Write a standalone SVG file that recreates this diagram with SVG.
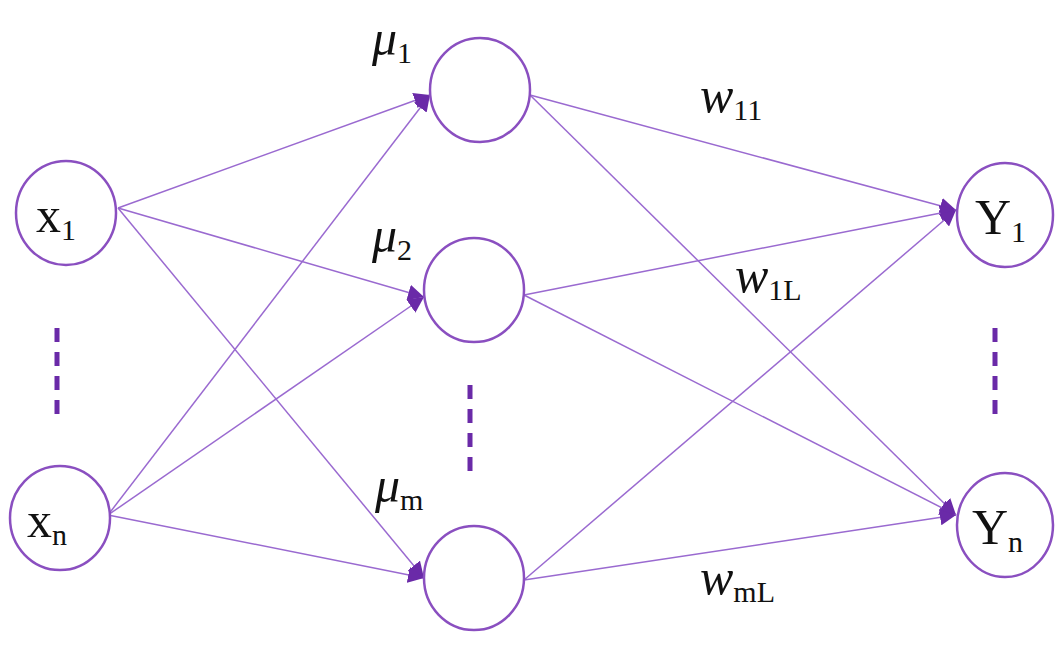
<svg xmlns="http://www.w3.org/2000/svg" width="1063" height="646" viewBox="0 0 1063 646">
<style>
.n{fill:#fff;stroke:#8a4fc0;stroke-width:2.5}
.e{stroke:#9a6ad0;stroke-width:1.5;fill:none}
.d{stroke:#6a2aa8;stroke-width:5;stroke-dasharray:14,10}
.t{font-family:"Liberation Serif",serif;font-size:50px;fill:#111}
.s{font-family:"Liberation Serif",serif;font-size:30px;fill:#111}
.w{font-family:"Liberation Serif",serif;font-style:italic;font-size:50px;fill:#111}
</style>
<defs><marker id="a" viewBox="0 0 10 10" refX="10" refY="5" markerWidth="16" markerHeight="16" markerUnits="userSpaceOnUse" orient="auto"><path d="M0,0L10,5L0,10z" fill="#6a2aa8"/></marker></defs>
<rect width="1063" height="646" fill="#fff"/>
<g id="connectors">
<line class="e" x1="118" y1="208" x2="430" y2="95" marker-end="url(#a)"/>
<line class="e" x1="118" y1="208" x2="424" y2="297" marker-end="url(#a)"/>
<line class="e" x1="118" y1="208" x2="424" y2="578" marker-end="url(#a)"/>
<line class="e" x1="108" y1="515" x2="430" y2="95" marker-end="url(#a)"/>
<line class="e" x1="108" y1="515" x2="424" y2="297" marker-end="url(#a)"/>
<line class="e" x1="108" y1="515" x2="424" y2="578" marker-end="url(#a)"/>
<line class="e" x1="530" y1="95" x2="956" y2="210" marker-end="url(#a)"/>
<line class="e" x1="530" y1="95" x2="956" y2="515" marker-end="url(#a)"/>
<line class="e" x1="524" y1="295" x2="956" y2="210" marker-end="url(#a)"/>
<line class="e" x1="524" y1="295" x2="956" y2="515" marker-end="url(#a)"/>
<line class="e" x1="524" y1="580" x2="956" y2="210" marker-end="url(#a)"/>
<line class="e" x1="524" y1="580" x2="956" y2="515" marker-end="url(#a)"/>
</g>
<line class="d" x1="57" y1="328" x2="57" y2="422"/>
<line class="d" x1="470" y1="385" x2="470" y2="472"/>
<line class="d" x1="995" y1="328" x2="995" y2="422"/>
<g id="x1"><ellipse class="n" cx="66" cy="213" rx="50" ry="52"/><text class="t" x="36" y="232">x<tspan class="s" dy="8">1</tspan></text></g>
<g id="xn"><ellipse class="n" cx="60" cy="518" rx="50" ry="52"/><text class="t" x="27" y="537">x<tspan class="s" dy="8">n</tspan></text></g>
<g id="mu1"><ellipse class="n" cx="480" cy="90" rx="50" ry="52"/><text class="w" x="372" y="55">μ<tspan class="s" font-style="normal" dy="8">1</tspan></text></g>
<g id="mu2"><ellipse class="n" cx="474" cy="290" rx="50" ry="52"/><text class="w" x="372" y="252">μ<tspan class="s" font-style="normal" dy="8">2</tspan></text></g>
<g id="mum"><ellipse class="n" cx="474" cy="578" rx="50" ry="52"/><text class="w" x="375" y="502">μ<tspan class="s" font-style="normal" dy="8">m</tspan></text></g>
<g id="y1"><ellipse class="n" cx="1005" cy="215" rx="48" ry="52"/><text class="t" x="975" y="234">Y<tspan class="s" dy="8">1</tspan></text></g>
<g id="yn"><ellipse class="n" cx="1005" cy="525" rx="48" ry="52"/><text class="t" x="972" y="544">Y<tspan class="s" dy="8">n</tspan></text></g>
<g id="labels">
<text class="w" x="700" y="112">w<tspan class="s" font-style="normal" dy="8">11</tspan></text>
<text class="w" x="735" y="292">w<tspan class="s" font-style="normal" dy="8">1L</tspan></text>
<text class="w" x="700" y="594">w<tspan class="s" font-style="normal" dy="8">mL</tspan></text>
</g>
</svg>
